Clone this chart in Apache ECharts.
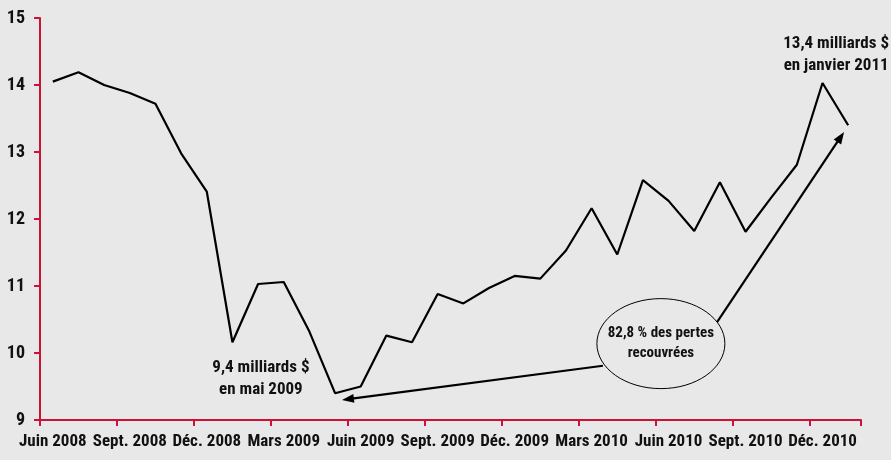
<!DOCTYPE html>
<html>
<head>
<meta charset="utf-8">
<script src="https://cdn.jsdelivr.net/npm/echarts@6/dist/echarts.min.js"></script>
<style>
  html, body { margin: 0; padding: 0; background: #e8e8e8; }
  #chart { width: 891px; height: 460px; }
</style>
</head>
<body>
<div id="chart"></div>
<script>
// Monthly values, June 2008 to January 2011 (billions of dollars)
const months = [
  'Juin 2008', 'Juil. 2008', 'Août 2008', 'Sept. 2008', 'Oct. 2008', 'Nov. 2008',
  'Déc. 2008', 'Janv. 2009', 'Févr. 2009', 'Mars 2009', 'Avr. 2009', 'Mai 2009',
  'Juin 2009', 'Juil. 2009', 'Août 2009', 'Sept. 2009', 'Oct. 2009', 'Nov. 2009',
  'Déc. 2009', 'Janv. 2010', 'Févr. 2010', 'Mars 2010', 'Avr. 2010', 'Mai 2010',
  'Juin 2010', 'Juil. 2010', 'Août 2010', 'Sept. 2010', 'Oct. 2010', 'Nov. 2010',
  'Déc. 2010', 'Janv. 2011'
];
const values = [
  14.05, 14.19, 14.00, 13.88, 13.72, 12.98,
  12.41, 10.16, 11.03, 11.06, 10.32, 9.40,
  9.50, 10.26, 10.16, 10.88, 10.74, 10.97,
  11.15, 11.11, 11.53, 12.16, 11.47, 12.58,
  12.27, 11.82, 12.55, 11.81, 12.32, 12.81,
  14.03, 13.40
];
const yTicks = [9, 10, 11, 12, 13, 14, 15];

const lowNote = ['9,4 milliards $', 'en mai 2009'];
const highNote = ['13,4 milliards $', 'en janvier 2011'];
const bubbleNote = ['82,8 % des pertes', 'recouvrées'];

const RED = '#cc1236';
const FONT = '"Roboto Condensed", "DejaVu Sans Condensed", sans-serif';

const chart = echarts.init(document.getElementById('chart'));

chart.setOption({
  backgroundColor: '#e8e8e8',
  animation: false,
  grid: { left: 40, right: 30, top: 18, bottom: 40 },
  xAxis: {
    type: 'category',
    data: months,
    boundaryGap: true,
    axisLine: { lineStyle: { color: RED, width: 2 } },
    axisTick: { show: true, interval: 2, length: 6, lineStyle: { color: RED, width: 2 } },
    axisLabel: {
      interval: 2, margin: 13, showMinLabel: true, hideOverlap: false,
      color: '#111', fontFamily: FONT, fontWeight: 'bold', fontSize: 17
    },
    splitLine: { show: false }
  },
  yAxis: {
    type: 'value',
    min: yTicks[0],
    max: yTicks[yTicks.length - 1],
    interval: 1,
    axisLine: { show: true, lineStyle: { color: RED, width: 2 } },
    axisTick: { show: true, length: 6, lineStyle: { color: RED, width: 2 } },
    axisLabel: {
      margin: 15,
      color: '#111', fontFamily: FONT, fontWeight: 'bold', fontSize: 18
    },
    splitLine: { show: false }
  },
  series: [{
    type: 'line',
    data: values,
    symbol: 'none',
    lineStyle: { color: '#000', width: 2.2 }
  }]
});

// Annotations are positioned in data space (fractional month index, value)
// and converted to pixels; the category axis snaps to whole indices, so
// the horizontal position is interpolated between neighbouring months.
function px(idx, val) {
  const a = chart.convertToPixel({ xAxisIndex: 0, yAxisIndex: 0 }, [0, val]);
  const b = chart.convertToPixel({ xAxisIndex: 0, yAxisIndex: 0 }, [1, val]);
  return [a[0] + idx * (b[0] - a[0]), a[1]];
}

function arrow(from, to) {
  const dx = to[0] - from[0], dy = to[1] - from[1];
  const len = Math.sqrt(dx * dx + dy * dy);
  const ux = dx / len, uy = dy / len;
  const headLen = 12, headW = 4.5;
  const bx = to[0] - ux * headLen, by = to[1] - uy * headLen;
  return [
    {
      type: 'line', silent: true,
      shape: { x1: from[0], y1: from[1], x2: bx + ux * 2, y2: by + uy * 2 },
      style: { stroke: '#000', lineWidth: 2.2 }
    },
    {
      type: 'polygon', silent: true,
      shape: { points: [to, [bx - uy * headW, by + ux * headW], [bx + uy * headW, by - ux * headW]] },
      style: { fill: '#000' }
    }
  ];
}

function textBlock(center, lines, size, gap) {
  return lines.map((t, i) => ({
    type: 'text', silent: true,
    x: center[0], y: center[1] + (i - (lines.length - 1) / 2) * gap,
    style: {
      text: t, fill: '#111', font: 'bold ' + size + 'px ' + FONT,
      align: 'center', verticalAlign: 'middle'
    }
  }));
}

const bubbleC = px(23.70, 10.14);
const lowTip = px(11.27, 9.30);
const highTip = px(30.84, 13.30);
const lowTail = px(21.44, 9.81);
const highTail = px(25.89, 10.46);

const graphics = [].concat(
  [{
    type: 'ellipse', silent: true,
    shape: { cx: bubbleC[0], cy: bubbleC[1], rx: 64, ry: 45 },
    style: { fill: '#e8e8e8', stroke: '#000', lineWidth: 1 }
  }],
  arrow(lowTail, lowTip),
  arrow(highTail, highTip),
  textBlock(bubbleC, bubbleNote, 15, 20),
  textBlock(px(8.11, 9.61), lowNote, 17, 22),
  textBlock(px(30.53, 14.45), highNote, 17, 22)
);

chart.setOption({ graphic: graphics });
</script>
</body>
</html>
